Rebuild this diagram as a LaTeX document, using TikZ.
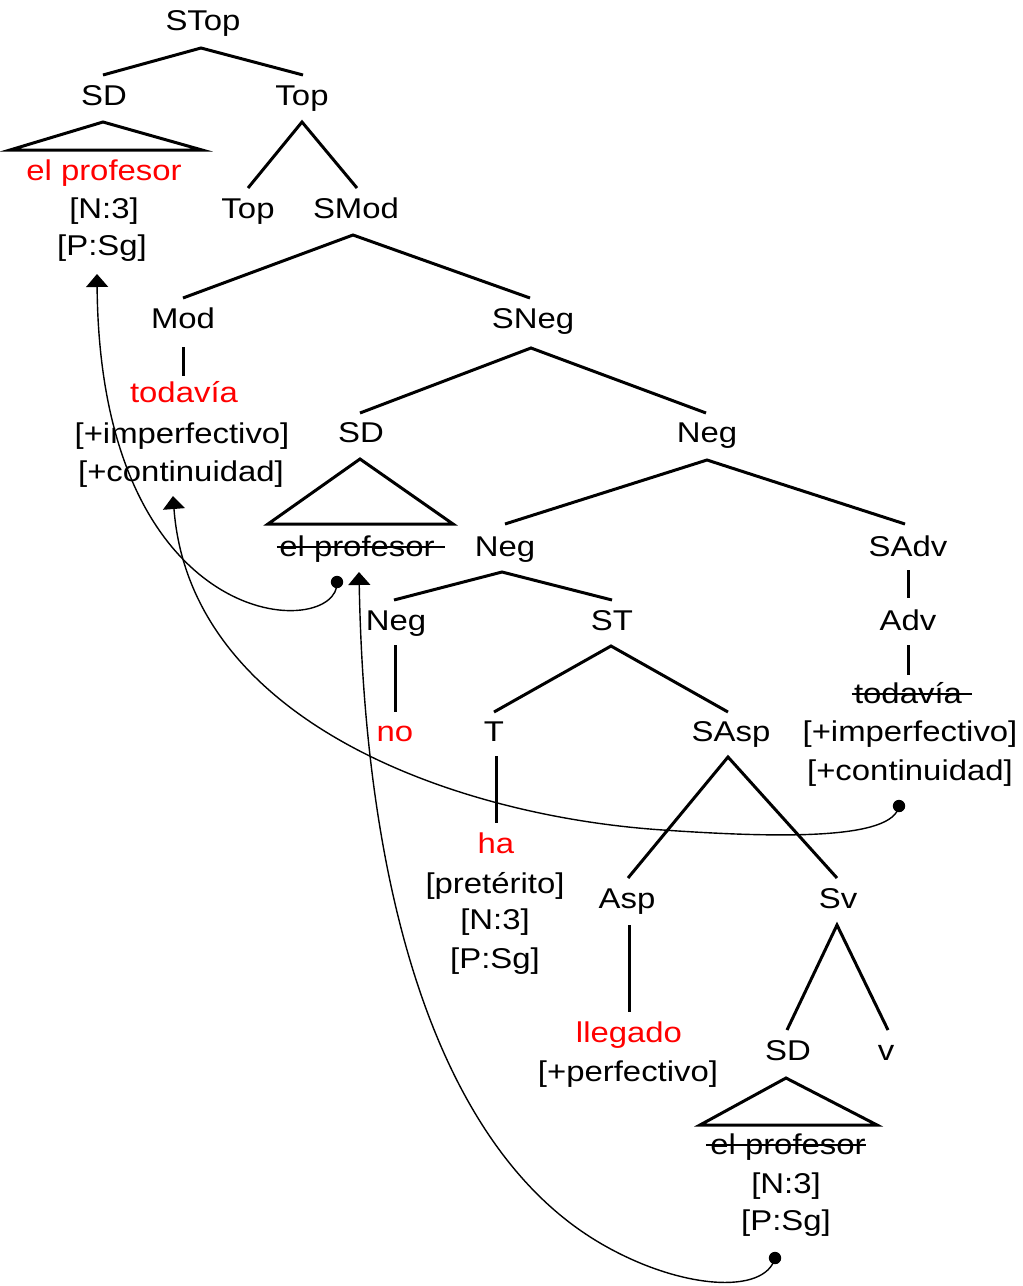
\documentclass[tikz,border=0pt]{standalone}
\usepackage{fontspec}
\setmainfont{Liberation Sans}[FakeStretch=1.15]
\usetikzlibrary{calc,arrows.meta}
\begin{document}
\begin{tikzpicture}[x=0.5pt,y=-0.5pt,
  lbl/.style={font=\fontsize{14.3}{17}\selectfont, inner sep=0pt, text height=10pt, text depth=0pt, anchor=center},
  rd/.style={lbl, text=red},
  edge/.style={line width=1.5pt, line join=miter},
  link/.style={line width=0.7pt, -{Triangle[width=11pt,length=6.5pt]}},
  strike/.style={line width=0.8pt}]
\useasboundingbox (0,0) rectangle (1023,1286);
% labels
\node[lbl] (STop) at (203,20) {STop};
\node[lbl] (SDa) at (104,95) {SD};
\node[lbl] (Topa) at (302,95) {Top};
\node[rd] (pa) at (104,170) {el profesor};
\node[lbl] (na) at (104,208) {[N:3]};
\node[lbl] (sa) at (102,245) {[P:Sg]};
\node[lbl] (Topb) at (248,208) {Top};
\node[lbl] (SMod) at (356,208) {SMod};
\node[lbl] (Mod) at (183,318) {Mod};
\node[lbl] (SNeg) at (533,318) {SNeg};
\node[rd] (tod) at (184,392) {todavía};
\node[lbl] (impa) at (182,433) {[+imperfectivo]};
\node[lbl] (cona) at (181,471) {[+continuidad]};
\node[lbl] (SDb) at (361,432) {SD};
\node[lbl] (Nega) at (707,432) {Neg};
\node[lbl] (pb) at (357,546) {el profesor};
\node[lbl] (Negb) at (505,546) {Neg};
\node[lbl] (SAdv) at (908,546) {SAdv};
\node[lbl] (Negc) at (396,620) {Neg};
\node[lbl] (ST) at (612,620) {ST};
\node[lbl] (Adv) at (908,620) {Adv};
\node[rd] (no) at (395,731) {no};
\node[lbl] (T) at (494,731) {T};
\node[lbl] (SAsp) at (731,731) {SAsp};
\node[lbl] (todb) at (908,693) {todavía};
\node[lbl] (impb) at (910,731) {[+imperfectivo]};
\node[lbl] (conb) at (910,770) {[+continuidad]};
\node[rd] (ha) at (496,843) {ha};
\node[lbl] (pret) at (495,883) {[pretérito]};
\node[lbl] (nb) at (495,919) {[N:3]};
\node[lbl] (sb) at (495,958) {[P:Sg]};
\node[lbl] (Asp) at (627,898) {Asp};
\node[lbl] (Sv) at (838,898) {Sv};
\node[rd] (lleg) at (629,1032) {llegado};
\node[lbl] (perf) at (628,1071) {[+perfectivo]};
\node[lbl] (SDc) at (788,1050) {SD};
\node[lbl] (v) at (886,1050) {v};
\node[lbl] (pc) at (788,1144) {el profesor};
\node[lbl] (nc) at (786,1183) {[N:3]};
\node[lbl] (sc) at (786,1220) {[P:Sg]};
% strikes
\draw[strike] ($(pb.west)+(-2,1)$) -- ($(pb.east)+(10,1)$);
\draw[strike] ($(todb.west)+(-2,1)$) -- ($(todb.east)+(10,1)$);
\draw[strike] ($(pc.west)+(-4,1)$) -- ($(pc.east)+(0,1)$);
% tree edges
\draw[edge] ($(SDa)+(-1,-20)$) -- ($(STop)+(-2,28)$) -- ($(Topa)+(1,-20)$);
\draw[edge] ($(SDa)+(-1,27)$) -- ($(SDa)+(-94,55)$) -- ($(SDa)+(98,55)$) -- cycle;
\draw[edge] ($(Topb)+(0,-20)$) -- ($(Topa)+(0,27)$) -- ($(SMod)+(1,-20)$);
\draw[edge] ($(Mod)+(0,-20)$) -- ($(SMod)+(-3,27)$) -- ($(SNeg)+(-3,-20)$);
\draw[edge] ($(Mod)+(0,29)$) -- ($(tod)+(-1,-16)$);
\draw[edge] ($(SDb)+(-1,-19)$) -- ($(SNeg)+(-2,30)$) -- ($(Nega)+(-1,-19)$);
\draw[edge] ($(SDb)+(-1,27)$) -- ($(SDb)+(-93,92)$) -- ($(SDb)+(92,92)$) -- cycle;
\draw[edge] ($(Negb)+(0,-22)$) -- ($(Nega)+(0,28)$) -- ($(SAdv)+(-3,-22)$);
\draw[edge] ($(Negc)+(-2,-20)$) -- ($(Negb)+(-3,26)$) -- ($(ST)+(0,-20)$);
\draw[edge] ($(SAdv)+(0,24)$) -- ($(Adv)+(0,-22)$);
\draw[edge] ($(Adv)+(0,25)$) -- ($(todb)+(0,-18)$);
\draw[edge] ($(Negc)+(-1,25)$) -- ($(no)+(0,-19)$);
\draw[edge] ($(T)+(0,-19)$) -- ($(ST)+(-1,26)$) -- ($(SAsp)+(-3,-19)$);
\draw[edge] ($(T)+(2,25)$) -- ($(ha)+(0,-20)$);
\draw[edge] ($(Asp)+(1,-20)$) -- ($(SAsp)+(-3,26)$) -- ($(Sv)+(-1,-20)$);
\draw[edge] ($(Asp)+(2,27)$) -- ($(lleg)+(0,-20)$);
\draw[edge] ($(SDc)+(-1,-20)$) -- ($(Sv)+(-1,27)$) -- ($(v)+(2,-20)$);
\draw[edge] ($(SDc)+(-2,28)$) -- ($(SDc)+(-88,75)$) -- ($(SDc)+(89,75)$) -- cycle;
% movement links
\coordinate (d1) at (337,582);
\coordinate (t1) at (97,274);
\coordinate (d2) at (899,806);
\coordinate (m2) at (663,830);
\coordinate (t2) at (173,496);
\coordinate (d3) at (775,1258);
\coordinate (m3) at (600,1243);
\coordinate (t3) at (359,572);
\fill (d1) circle (3.1pt);
\fill (d2) circle (3.1pt);
\fill (d3) circle (3.1pt);
\draw[link] (d1) .. controls (340,640) and (100,640) .. (t1);
\draw[link] (d2) .. controls (893,840) and (780,838) .. (m2) .. controls (452,816) and (190,720) .. (t2);
\draw[link] (d3) .. controls (765,1295) and (680,1290) .. (m3) .. controls (440,1149) and (365,900) .. (t3);
\end{tikzpicture}
\end{document}
